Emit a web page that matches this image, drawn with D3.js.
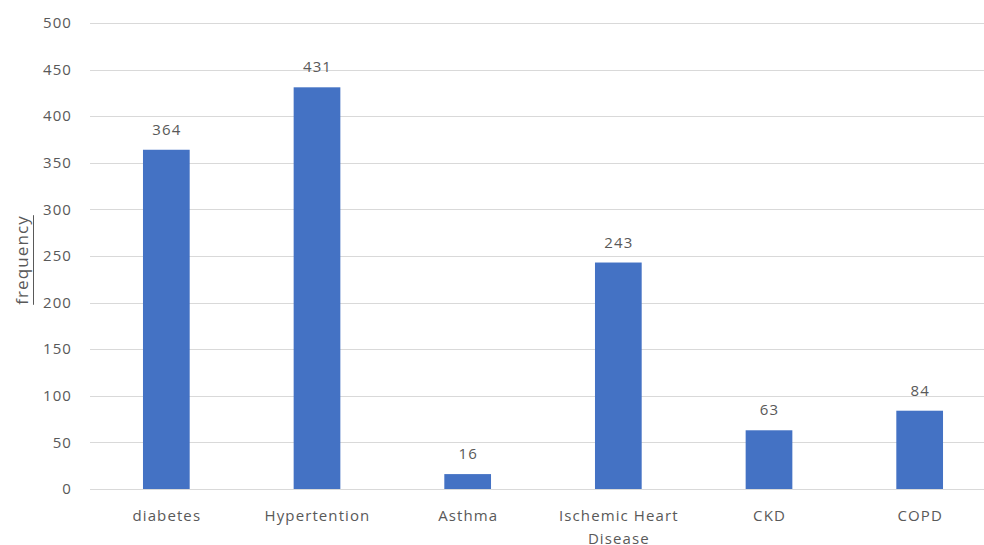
<!DOCTYPE html>
<html>
<head>
<meta charset="utf-8">
<script src="https://cdn.jsdelivr.net/npm/d3@7"></script>
<style>
  body { margin: 0; background: #fff; }
  text { font-family: "Open Sans", "Liberation Sans", sans-serif; fill: #595959; letter-spacing: 1.1px; }
</style>
</head>
<body>
<div id="chart"></div>
<script>
const categories = ["diabetes", "Hypertention", "Asthma", "Ischemic Heart Disease", "CKD", "COPD"];
const frequency = [364, 431, 16, 243, 63, 84];
const yTicks = [0, 50, 100, 150, 200, 250, 300, 350, 400, 450, 500];

const width = 984, height = 545;
const margin = {top: 23, right: -11, bottom: 56, left: 91};

let svg = d3.select("#chart").append("svg")
    .attr("width", width)
    .attr("height", height);

let x = d3.scaleBand()
    .domain(categories)
    .range([margin.left, width - margin.right])
    .paddingInner(0.69)
    .paddingOuter(0.345);

let y = d3.scaleLinear()
    .domain([0, 500])
    .range([height - margin.bottom, margin.top]);

//gridlines
svg.append("g")
    .selectAll("line")
    .data(yTicks)
    .enter()
    .append("line")
    .attr("x1", margin.left - 1)
    .attr("x2", width - margin.right)
    .attr("y1", d => Math.round(y(d)) + 0.5)
    .attr("y2", d => Math.round(y(d)) + 0.5)
    .attr("stroke", "#d9d9d9")
    .attr("stroke-width", 1);

//y tick labels
svg.append("g")
    .selectAll("text")
    .data(yTicks)
    .enter()
    .append("text")
    .attr("x", 72)
    .attr("y", d => y(d))
    .attr("dy", "0.35em")
    .attr("text-anchor", "end")
    .style("font-size", "15px")
    .text(d => d);

//bars
svg.append("g")
    .selectAll("rect")
    .data(frequency)
    .enter()
    .append("rect")
    .attr("x", (d, i) => x(categories[i]))
    .attr("y", d => y(d))
    .attr("width", x.bandwidth())
    .attr("height", d => y(0) - y(d))
    .attr("fill", "#4472c4");

//value labels
svg.append("g")
    .selectAll("text")
    .data(frequency)
    .enter()
    .append("text")
    .attr("x", (d, i) => x(categories[i]) + x.bandwidth() / 2 + 0.5)
    .attr("y", d => y(d) - 15)
    .attr("text-anchor", "middle")
    .style("font-size", "15px")
    .text(d => d);

//category labels, wrapped like the original
const catLines = {"Ischemic Heart Disease": ["Ischemic Heart", "Disease"]};
svg.append("g")
    .selectAll("text")
    .data(categories)
    .enter()
    .append("text")
    .attr("y", 521)
    .attr("text-anchor", "middle")
    .style("font-size", "15px")
    .each(function (d) {
        let lines = catLines[d] || [d];
        d3.select(this).selectAll("tspan")
            .data(lines)
            .enter()
            .append("tspan")
            .attr("x", x(d) + x.bandwidth() / 2 + 0.5)
            .attr("dy", (l, j) => j === 0 ? 0 : 23)
            .text(l => l);
    });

//axis title with a solid underline
const titleY = (margin.top + height - margin.bottom) / 2 + 4;
let title = svg.append("text")
    .attr("transform", "translate(28," + titleY + ") rotate(-90)")
    .attr("text-anchor", "middle")
    .style("font-size", "17px")
    .text("frequency");
let len = title.node().getComputedTextLength();
svg.append("line")
    .attr("x1", 33.5)
    .attr("x2", 33.5)
    .attr("y1", titleY - len / 2)
    .attr("y2", titleY + len / 2)
    .attr("stroke", "#595959")
    .attr("stroke-width", 1);
</script>
</body>
</html>
